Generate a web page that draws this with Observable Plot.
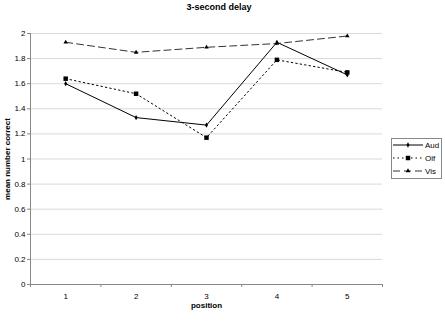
<!DOCTYPE html>
<html>
<head>
<meta charset="utf-8">
<script src="https://cdn.jsdelivr.net/npm/d3@7"></script>
<script src="https://cdn.jsdelivr.net/npm/@observablehq/plot@0.6"></script>
<style>
  body { margin: 0; background: #fff; font-family: "Liberation Sans", Arial, sans-serif; }
  #wrap { position: relative; width: 445px; height: 324px; }
  #title { position: absolute; left: 0; top: 2px; width: 438px; text-align: center; font-weight: bold; font-size: 9px; color: #000; }
  #legend { position: absolute; left: 391px; top: 138px; }
</style>
</head>
<body>
<div id="wrap">
  <div id="title">3-second delay</div>
  <div id="chart"></div>
  <svg id="legend" width="51" height="41"></svg>
</div>
<script>
// Positions along the x axis and mean correct responses per modality
const positions = [1, 2, 3, 4, 5];
const aud = [1.60, 1.33, 1.27, 1.93, 1.67];
const olf = [1.64, 1.52, 1.17, 1.79, 1.69];
const vis = [1.93, 1.85, 1.89, 1.92, 1.98];
const seriesNames = ["Aud", "Olf", "Vis"];
const yTicks = [0, 0.2, 0.4, 0.6, 0.8, 1, 1.2, 1.4, 1.6, 1.8, 2];

const styles = {
  Aud: {dash: null, color: "#000", symbol: d3.symbolDiamond, size: 8},
  Olf: {dash: "1.5,3", color: "#000", symbol: d3.symbolSquare, size: 20},
  Vis: {dash: "7,4", color: "#333", symbol: d3.symbolTriangle, size: 9}
};

const rows = [];
[aud, olf, vis].forEach((vals, i) => {
  positions.forEach((p, j) => rows.push({series: seriesNames[i], position: p, value: vals[j]}));
});

const lineMarks = seriesNames.flatMap(name => {
  const data = rows.filter(r => r.series === name);
  const s = styles[name];
  return [
    Plot.line(data, {x: "position", y: "value", stroke: s.color, strokeWidth: 1, strokeDasharray: s.dash}),
    Plot.dot(data, {x: "position", y: "value", symbol: () => s.symbol, r: Math.sqrt(s.size / Math.PI), fill: "#000", stroke: "none"})
  ];
});

const chart = Plot.plot({
  width: 445,
  height: 324,
  marginTop: 33,
  marginBottom: 40,
  marginLeft: 30,
  marginRight: 63,
  style: {fontFamily: "Liberation Sans, Arial, sans-serif", fontSize: "8px", color: "#000", background: "transparent"},
  x: {type: "linear", domain: [0.5, 5.5]},
  y: {domain: [0, 2]},
  symbol: {type: "identity"},
  marks: [
    Plot.gridY(yTicks, {stroke: "#d9d9d9", strokeOpacity: 1}),
    Plot.axisY(yTicks, {tickSize: 3, tickFormat: d => String(+d.toFixed(1)), stroke: "#888", tickPadding: 2,
      label: "mean number correct", labelAnchor: "center", labelOffset: 26, labelArrow: "none"}),
    Plot.axisX(positions, {tickSize: 0, tickPadding: 9, tickFormat: d => String(d), label: null}),
    Plot.axisX([0.5, 1.5, 2.5, 3.5, 4.5, 5.5], {tickSize: 3, tickFormat: () => "", stroke: "#888", label: null}),
    Plot.ruleX([0.5], {stroke: "#888"}),
    Plot.ruleY([0], {stroke: "#888"}),
    Plot.text(["position"], {frameAnchor: "bottom", dy: 23, fontWeight: "bold", fontSize: 8}),
    ...lineMarks
  ]
});
document.getElementById("chart").appendChild(chart);

// bold y-axis label
chart.querySelectorAll("g[aria-label='y-axis label'] text").forEach(t => t.setAttribute("font-weight", "bold"));

// legend
const legend = d3.select("#legend");
legend.append("rect").attr("x", 0.5).attr("y", 0.5).attr("width", 50).attr("height", 40)
  .attr("fill", "#fff").attr("stroke", "#888");
seriesNames.forEach((name, i) => {
  const s = styles[name];
  const cy = 7 + i * 13;
  legend.append("line").attr("x1", 2).attr("x2", 32).attr("y1", cy).attr("y2", cy)
    .attr("stroke", s.color).attr("stroke-width", 1).attr("stroke-dasharray", s.dash);
  legend.append("path").attr("d", d3.symbol(s.symbol, s.size)()).attr("transform", `translate(17,${cy})`).attr("fill", "#000");
  legend.append("text").attr("x", 34).attr("y", cy).attr("dy", "0.35em")
    .attr("font-size", 8).attr("font-family", "Liberation Sans, Arial, sans-serif").attr("fill", "#000").text(name);
});
</script>
</body>
</html>
